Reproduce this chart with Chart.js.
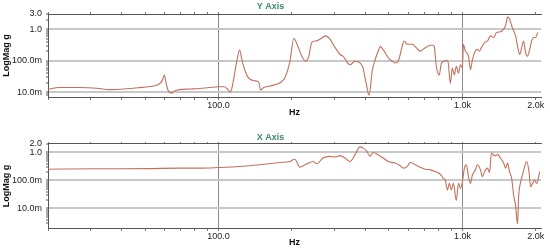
<!DOCTYPE html>
<html>
<head>
<meta charset="utf-8">
<script src="https://cdn.jsdelivr.net/npm/chart.js@4"></script>
<style>
  body { margin: 0; background: #fff; }
  .box { position: absolute; left: 0; width: 550px; }
  #topBox { top: 0; height: 120px; }
  #bottomBox { top: 124px; height: 126px; }
</style>
</head>
<body>
<div class="box" id="topBox"><canvas id="yAxisChart"></canvas></div>
<div class="box" id="bottomBox"><canvas id="xAxisChart"></canvas></div>
<script>
// Y Axis response
const yAxisFreq = [20, 22.2, 26.8, 32.4, 35.6, 43, 52, 57.2, 58.9, 60, 61.1, 62.3, 64.1, 65.9, 69.2, 76, 83.5, 91.8,
  100, 105.9, 108.9, 112, 114.2, 118.6, 122, 125.5, 131.6, 140.6, 146.1, 148.9, 153.2, 162.2, 178.2, 183.3, 186.9, 195.9,
  203.6, 211.3, 219.6, 228, 234.6, 241.3, 250.7, 260.4, 275.7, 286.3, 300.3, 315, 323.9, 345.9, 362.8, 380.3, 391.4,
  402.8, 414.4, 426.5, 438.9, 451.6, 460.2, 477.8, 495.9, 515, 530, 545.2, 555.9, 566.5, 577.1, 593.8, 622.7, 646.8,
  671.6, 704.6, 738.4, 760.3, 767.4, 781.6, 803.6, 820.4, 843.3, 867.5, 875.3, 892.5, 909.4, 926.7, 944.1, 963.8, 981.7,
  1000, 1009, 1028, 1059, 1079, 1099, 1130, 1153, 1175, 1197, 1233, 1268, 1303, 1343, 1380, 1432, 1476, 1503, 1531,
  1560, 1592, 1622, 1652, 1683, 1718, 1750, 1782, 1816, 1849, 1888, 1923, 1959, 1995, 2037];
const yAxisMag = [0.0125, 0.014, 0.014, 0.013, 0.012, 0.013, 0.015, 0.018, 0.024, 0.035, 0.018, 0.0108, 0.0093, 0.0108, 0.012, 0.0125, 0.013, 0.014,
  0.0148, 0.0148, 0.0125, 0.010, 0.0168, 0.086, 0.215, 0.086, 0.031, 0.023, 0.021, 0.0116, 0.014, 0.0156, 0.0195, 0.0232, 0.028, 0.086,
  0.50, 0.29, 0.138, 0.095, 0.138, 0.38, 0.42, 0.476, 0.608, 0.476, 0.263, 0.156, 0.138, 0.074, 0.095, 0.084, 0.059,
  0.0195, 0.008, 0.045, 0.108, 0.20, 0.277, 0.20, 0.125, 0.095, 0.084, 0.095, 0.156, 0.289, 0.42, 0.328, 0.328, 0.257,
  0.20, 0.257, 0.305, 0.305, 0.27, 0.0655, 0.035, 0.084, 0.095, 0.102, 0.084, 0.019, 0.058, 0.035, 0.0655, 0.040, 0.074,
  0.058, 0.328, 0.20, 0.138, 0.051, 0.108, 0.20, 0.226, 0.20, 0.257, 0.372, 0.42, 0.608, 0.54, 0.783, 0.818, 1.0, 1.277, 2.38,
  2.10, 1.277, 0.881, 0.608, 0.289, 0.156, 0.257, 0.42, 0.177, 0.138, 0.226, 0.42, 0.54, 0.54, 0.783];

// X Axis response
const xAxisFreq = [20, 32.4, 52, 69.2, 83.5, 100, 122, 147.5, 178.2, 195.9, 205.5, 215.5, 226, 237, 243.6, 253, 268, 286,
  303, 315, 330, 346, 363, 380, 391, 406, 418, 430, 451, 473, 496, 530, 556, 572, 594, 611, 641, 672, 705, 738, 774,
  812, 835, 851, 868, 884, 901, 918, 944, 964, 982, 1000, 1019, 1038, 1059, 1079, 1099, 1130, 1153, 1186, 1208, 1233,
  1268, 1292, 1316, 1355, 1393, 1432, 1476, 1503, 1531, 1560, 1592, 1622, 1652, 1683, 1700, 1734, 1766, 1799, 1833,
  1871, 1905, 1941, 1977, 2018, 2075];
const xAxisMag = [0.252, 0.26, 0.265, 0.274, 0.274, 0.288, 0.313, 0.361, 0.438, 0.476, 0.57, 0.298, 0.361, 0.438, 0.476, 0.393, 0.632, 0.722,
  0.687, 0.766, 0.632, 0.476, 0.832, 1.58, 1.455, 1.096, 0.722, 1.0, 0.832, 0.632, 0.476, 0.417, 0.333, 0.274, 0.313, 0.438, 0.361, 0.298, 0.252, 0.238, 0.207,
  0.166, 0.119, 0.103, 0.045, 0.0785, 0.045, 0.0785, 0.0195, 0.0785, 0.0518, 0.0897, 0.274, 0.361, 0.136, 0.0785, 0.157, 0.238, 0.361, 0.238, 0.136, 0.207,
  0.274, 0.19, 0.959, 0.766, 0.832, 0.632, 0.417, 0.274, 0.417, 0.207, 0.119, 0.0296, 0.0128, 0.0028, 0.0257, 0.0897, 0.166, 0.313, 0.476,
  0.238, 0.059, 0.0785, 0.103, 0.0785, 0.207];

// tick values / labels
const freqTicks = [20, 30, 40, 50, 60, 70, 80, 90, 100, 200, 300, 400, 500, 600, 700, 800, 900, 1000, 2000];
const freqLabelValues = [100, 1000, 2000];
const freqLabelText = ['100.0', '1.0k', '2.0k'];
const topMagTicks = [0.01, 0.1, 1, 3];
const topMagText = ['10.0m', '100.0m', '1.0', '3.0'];
const bottomMagTicks = [0.01, 0.1, 1, 2];
const bottomMagText = ['10.0m', '100.0m', '1.0', '2.0'];

const FONT = "'Liberation Sans', Arial, sans-serif";
const LINE = '#c4705c';

function minorTicks(min, max) {
    const out = [];
    for (let d = 0.001; d <= 1; d *= 10) {
        for (let k = 2; k <= 9; k++) {
            const v = +(k * d).toPrecision(3);
            if (v > min && v < max) out.push(v);
        }
    }
    return out;
}

function makeChart(id, title, freq, mag, yMin, yMax, magTicks, magText, titlePadTop, topGap, xHeight) {
    const ctx = document.getElementById(id).getContext('2d');
    const yTicks = magTicks.concat(minorTicks(yMin, yMax)).sort((a, b) => a - b);
    return new Chart(ctx, {
        type: 'line',
        data: {
            datasets: [{
                data: freq.map((f, i) => ({ x: f, y: mag[i] })),
                borderColor: LINE,
                borderWidth: 1.1, pointRadius: 0, fill: false,
                cubicInterpolationMode: 'monotone'
            }]
        },
        options: {
            responsive: true, maintainAspectRatio: false, animation: false,
            layout: { padding: { left: 0, right: 9, top: 0, bottom: 0 } },
            plugins: {
                legend: { display: false },
                tooltip: { enabled: false },
                title: {
                    display: true, text: title, color: '#3a8a70',
                    font: { family: FONT, size: 9, weight: 'bold' },
                    padding: { top: titlePadTop, bottom: 0 }
                }
            },
            scales: {
                x2: {
                    type: 'logarithmic', position: 'top', min: 20, max: 2100,
                    afterBuildTicks: s => { s.ticks = freqTicks.map(v => ({ value: v })); },
                    afterFit: s => { s.height = topGap; },
                    ticks: { display: false },
                    grid: { drawOnChartArea: false, drawTicks: true, tickLength: 2, tickColor: '#777' },
                    border: { display: true, color: '#555' }
                },
                x: {
                    type: 'logarithmic', position: 'bottom', min: 20, max: 2100,
                    afterBuildTicks: s => { s.ticks = freqTicks.map(v => ({ value: v })); },
                    afterFit: s => { s.height = xHeight; },
                    ticks: {
                        autoSkip: false, maxRotation: 0, padding: 0, color: '#222',
                        font: { family: FONT, size: 9 },
                        callback: v => {
                            const i = freqLabelValues.indexOf(v);
                            return i >= 0 ? freqLabelText[i] : '';
                        }
                    },
                    grid: {
                        drawTicks: true, tickLength: 3, tickColor: '#777',
                        color: c => (c.tick && (c.tick.value === 100 || c.tick.value === 1000)) ? '#8a8a8a' : 'rgba(0,0,0,0)',
                        lineWidth: 1
                    },
                    border: { display: true, color: '#555' },
                    title: {
                        display: true, text: 'Hz', color: '#111',
                        font: { family: FONT, size: 9, weight: 'bold' },
                        padding: { top: 0, bottom: 2 }
                    }
                },
                y: {
                    type: 'logarithmic', min: yMin, max: yMax,
                    afterBuildTicks: s => { s.ticks = yTicks.map(v => ({ value: v })); },
                    afterFit: s => { s.width = 48; },
                    ticks: {
                        autoSkip: false, padding: 4, color: '#222',
                        font: { family: FONT, size: 9 },
                        callback: v => {
                            const i = magTicks.indexOf(v);
                            return i >= 0 ? magText[i] : '';
                        }
                    },
                    grid: {
                        drawTicks: true, tickLength: 2, tickColor: '#aaa',
                        color: c => (c.tick && magTicks.indexOf(c.tick.value) >= 0 && c.tick.value !== yMax) ? '#c8c8c8' : 'rgba(0,0,0,0)',
                        lineWidth: 2
                    },
                    border: { display: true, color: '#555' },
                    title: {
                        display: true, text: 'LogMag g', color: '#111',
                        font: { family: FONT, size: 9, weight: 'bold' },
                        padding: { top: 1, bottom: 0 }
                    }
                }
            }
        }
    });
}

makeChart('yAxisChart', 'Y Axis', yAxisFreq, yAxisMag, 0.007, 3, topMagTicks, topMagText, 1, 2.2, 23);
makeChart('xAxisChart', 'X Axis', xAxisFreq, xAxisMag, 0.002, 2, bottomMagTicks, bottomMagText, 8, 1.2, 22);
</script>
</body>
</html>
